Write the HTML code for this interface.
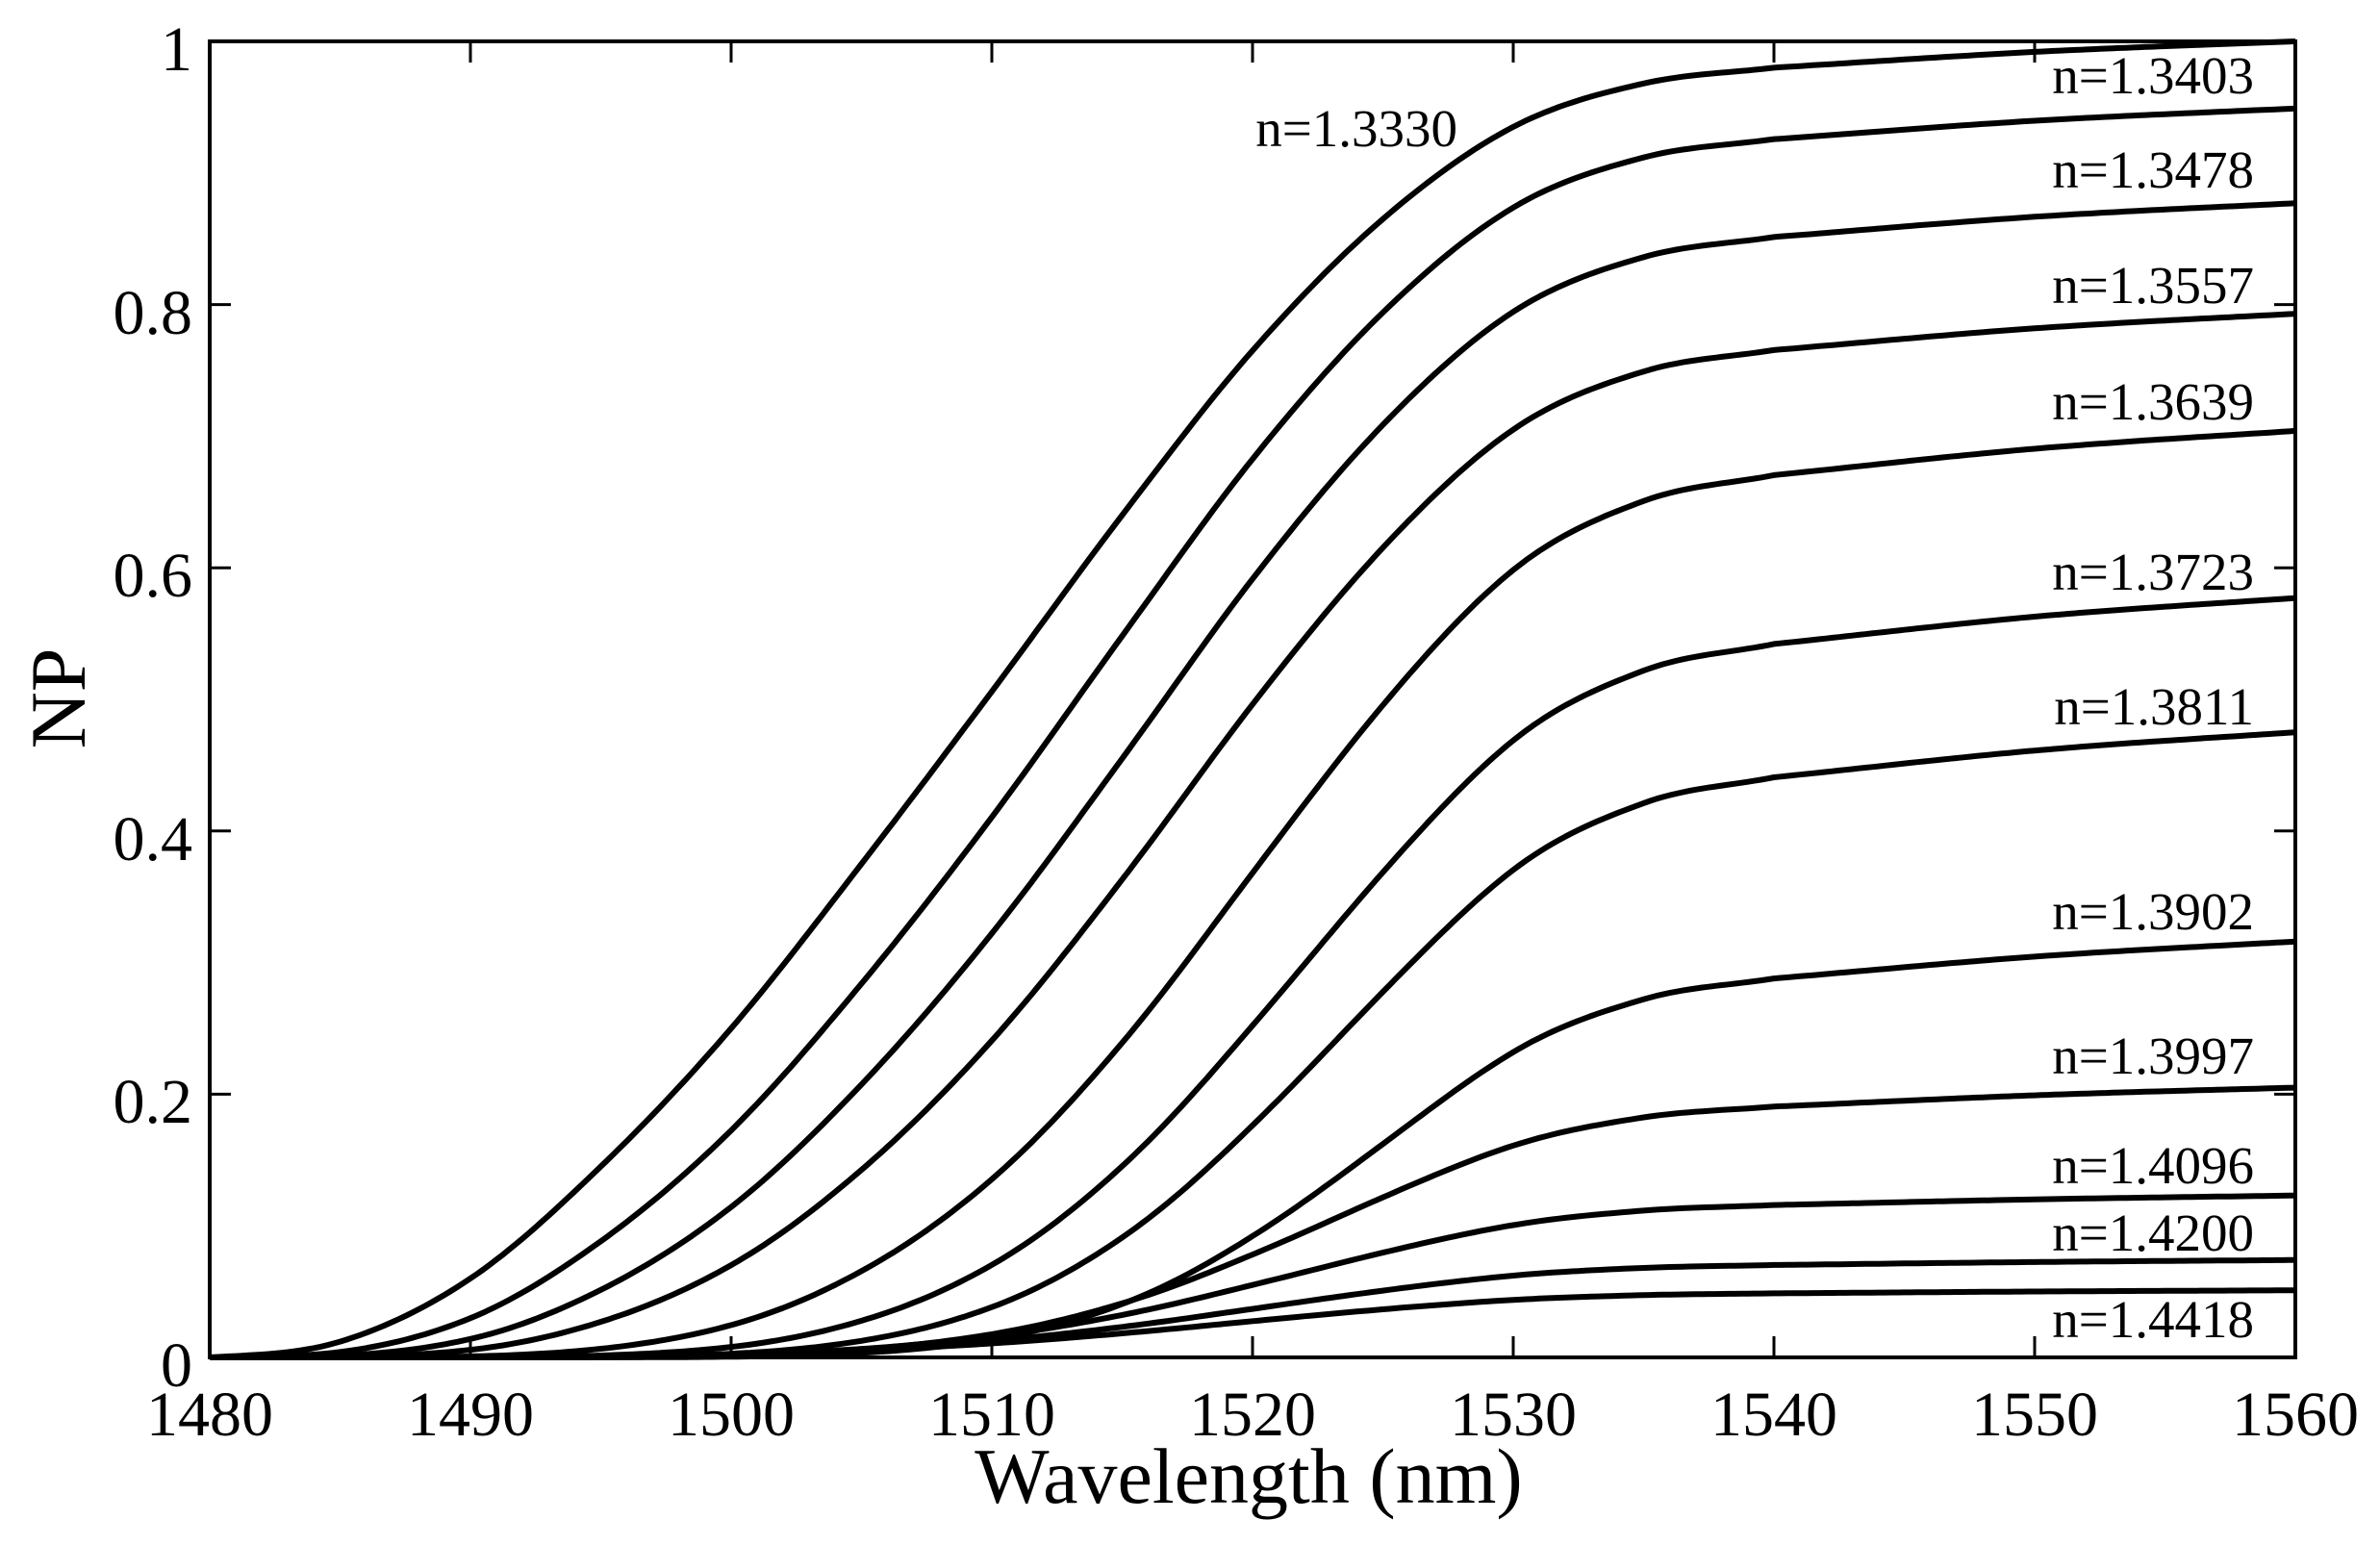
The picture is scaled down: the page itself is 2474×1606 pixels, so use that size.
<!DOCTYPE html>
<html><head><meta charset="utf-8">
<style>
html,body{margin:0;padding:0;background:#fff;}
svg{display:block;}
text{font-family:"Liberation Serif",serif;fill:#000;}
</style></head>
<body>
<svg id="s" width="2474" height="1606" viewBox="0 0 2474 1606" xmlns="http://www.w3.org/2000/svg">
<rect x="218" y="43" width="2168" height="1368" fill="none" stroke="#000" stroke-width="4"/>
<g id="ticks" stroke="#000" stroke-width="3"></g>
<g id="curves" fill="none" stroke="#000" stroke-width="6" stroke-linejoin="round"></g>
<g font-size="66" text-anchor="end">
<text x="200" y="1441">0</text>
<text x="200" y="1167">0.2</text>
<text x="200" y="894">0.4</text>
<text x="200" y="620">0.6</text>
<text x="200" y="347">0.8</text>
<text x="200" y="73">1</text>
</g>
<g font-size="66" text-anchor="middle">
<text x="218" y="1492">1480</text>
<text x="489" y="1492">1490</text>
<text x="760" y="1492">1500</text>
<text x="1031" y="1492">1510</text>
<text x="1302" y="1492">1520</text>
<text x="1573" y="1492">1530</text>
<text x="1844" y="1492">1540</text>
<text x="2115" y="1492">1550</text>
<text x="2386" y="1492">1560</text>
</g>
<text x="1298" y="1562" font-size="82" text-anchor="middle">Wavelength (nm)</text>
<text transform="translate(88,726) rotate(-90)" font-size="82" text-anchor="middle">NP</text>
<g font-size="55" text-anchor="end">
<text x="1515" y="152">n=1.3330</text>
<text x="2343" y="97">n=1.3403</text>
<text x="2343" y="195">n=1.3478</text>
<text x="2343" y="315">n=1.3557</text>
<text x="2343" y="436">n=1.3639</text>
<text x="2343" y="613">n=1.3723</text>
<text x="2343" y="753">n=1.3811</text>
<text x="2343" y="966">n=1.3902</text>
<text x="2343" y="1116">n=1.3997</text>
<text x="2343" y="1230">n=1.4096</text>
<text x="2343" y="1300">n=1.4200</text>
<text x="2343" y="1390">n=1.4418</text>
</g>
</svg>
<script>
(function(){
var X0=218,X1=2386,Y0=1411,H=1368;
function px(l){return X0+(l-1480)*(X1-X0)/80;}
function py(v){return Y0-v*H;}
var t=document.getElementById('ticks'),s='';
for(var i=1;i<8;i++){var x=px(1480+10*i);s+='<line x1="'+x+'" y1="1411" x2="'+x+'" y2="1389"/><line x1="'+x+'" y1="43" x2="'+x+'" y2="65"/>';}
for(var j=1;j<5;j++){var y=py(0.2*j);s+='<line x1="218" y1="'+y+'" x2="240" y2="'+y+'"/><line x1="2386" y1="'+y+'" x2="2364" y2="'+y+'"/>';}
t.innerHTML=s;
var L=[1475,1480,1485,1490,1495,1500,1505,1510,1515,1520,1525,1530,1535,1540,1550,1560,1570];
var G=[0,0,.012,.06,.145,.25,.375,.506,.64,.765,.865,.935,.968,.98,.992,1.0,1.007];
function g(l){
  for(var i=1;i<L.length-2;i++){ if(l<=L[i+1]){
    var p0=G[i-1],p1=G[i],p2=G[i+1],p3=G[i+2];
    var u=(l-L[i])/(L[i+1]-L[i]);
    var m1=(p2-p0)/2,m2=(p3-p1)/2;
    var u2=u*u,u3=u2*u;
    return (2*u3-3*u2+1)*p1+(u3-2*u2+u)*m1+(-2*u3+3*u2)*p2+(u3-u2)*m2;
  }}
  return 1;
}
var C=[[1.0,1],[.949,1.23],[.877,1.47],[.793,1.75],[.704,2.42],[.577,3.09],[.475,3.7],[.316,4.6],[.205,3.6],[.123,3.0],[.074,2.6],[.051,2.3]];
var out='';
C.forEach(function(c){
  var d='';
  for(var l=1480;l<=1560.001;l+=0.25){
    var v=Math.max(0,g(l));
    v=c[0]*Math.pow(v,c[1]);
    d+=(d?'L':'M')+px(l).toFixed(1)+' '+py(v).toFixed(1);
  }
  out+='<path d="'+d+'"/>';
});
document.getElementById('curves').innerHTML=out;
})();
</script>
</body></html>
